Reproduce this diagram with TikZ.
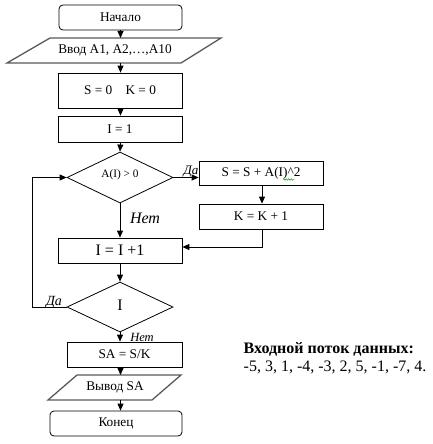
\documentclass[tikz,border=0pt]{standalone}
\usepackage{fontspec}
\setmainfont{Liberation Serif}
\usetikzlibrary{arrows.meta,shapes.geometric,decorations.pathmorphing}
\begin{document}
\begin{tikzpicture}[x=1pt,y=-1pt,
  box/.style={draw,line width=0.8pt,inner sep=0pt,font=\fontsize{13.3}{15}\selectfont},
  term/.style={box,rounded corners=4pt},
  io/.style={draw=black!65,line width=1.3pt},
  iotext/.style={inner sep=0pt,font=\fontsize{13.3}{15}\selectfont},
  dia/.style={draw,line width=0.8pt,diamond,inner sep=0pt,aspect=2.08},
  lbl/.style={inner sep=0pt,font=\itshape},
  arr/.style={line width=0.8pt,-{Triangle[length=7pt,width=6pt]}},
  ln/.style={line width=0.8pt}]
\useasboundingbox (0,0) rectangle (432,444);
% nodes
\node[term,minimum width=123pt,minimum height=25pt] (start) at (120.5,17.5) {Начало};
\draw[io] (50,38) -- (221,38) -- (181,63) -- (7,63) -- cycle;
\node[iotext] (in) at (115,50.5) {Ввод A1, A2,…,A10};
\coordinate (intop) at (120.5,38);
\coordinate (inbot) at (120.5,63);
\node[box,minimum width=124pt,minimum height=35pt] (init) at (120,90.5) {S = 0\quad K = 0};
\node[box,minimum width=124pt,minimum height=26pt] (i1) at (120,129) {I = 1};
\node[dia,minimum width=106pt,minimum height=51pt] (d1) at (120,177.5) {};
\node[inner sep=0pt,font=\fontsize{11.3}{13}\selectfont] (d1t) at (120,175) {A(I) > 0};
\node[box,minimum width=124pt,minimum height=24pt] (s) at (261,173) {S = S + A(I)\^{}2};
\node[box,minimum width=124pt,minimum height=25pt] (k) at (261,216.5) {K = K + 1};
\node[box,minimum width=124pt,minimum height=25pt,font=\fontsize{16}{18}\selectfont] (inc) at (120,250.5) {I = I +1};
\node[dia,minimum width=106pt,minimum height=50pt] (d2) at (120,307) {};
\node[inner sep=0pt,font=\fontsize{16}{18}\selectfont] (d2t) at (120,305) {I};
\node[box,minimum width=115pt,minimum height=25pt] (sa) at (124.5,354.5) {SA = S/K};
\draw[io] (77,375) -- (181,375) -- (152,400) -- (48,400) -- cycle;
\node[iotext] (out) at (115,387.5) {Вывод SA};
\coordinate (outtop) at (120.5,375);
\coordinate (outbot) at (120.5,400);
\node[term,minimum width=132pt,minimum height=25pt] (end) at (116,423.5) {Конец};
% labels
\node[lbl,font=\fontsize{16}{18}\selectfont\itshape] (no1) at (145,218) {Нет};
\node[lbl,font=\fontsize{12.5}{14}\selectfont\itshape] (no2) at (142,337.5) {Нет};
\node[lbl,font=\fontsize{13}{14}\selectfont\itshape] (yes1) at (191,171.5) {Да};
\node[lbl,font=\fontsize{14}{15}\selectfont\itshape] (yes2) at (54,302.5) {Да};
\node[inner sep=0pt,anchor=west,align=left,font=\fontsize{16}{18}\selectfont] (data) at (243.5,358)
  {\textbf{Входной поток данных:}\\-5, 3, 1, -4, -3, 2, 5, -1, -7, 4.};
% green spell-check wave
\draw[green!60!black,line width=0.5pt,decorate,decoration={snake,amplitude=0.8pt,segment length=2.5pt}] (283,179.5) -- (294,179.5);
% connectors
\draw[arr] (start.south -| intop) -- (intop);
\draw[arr] (inbot) -- (init.north -| inbot);
\draw[arr] (init.south -| inbot) -- (i1.north -| inbot);
\draw[arr] (i1.south -| inbot) -- (d1.north);
\coordinate (sin) at (s.west |- d1.east);
\draw[arr] (d1.east) -- (sin);
\coordinate (sk) at (262,185);
\draw[arr] (s.south -| sk) -- (k.north -| sk);
\coordinate (kturn) at (262,247);
\draw[arr] (k.south -| kturn) -- (kturn) -- (inc.east |- kturn);
\draw[arr] (d1.south) -- (inc.north -| d1.south);
\draw[arr] (inc.south -| d2.north) -- (d2.north);
\coordinate (lb) at (32,307);
\coordinate (lt) at (32,177.5);
\draw[arr] (d2.west) -- (lb) -- (lt) -- (d1.west);
\draw[arr] (d2.south) -- (sa.north -| d2.south);
\draw[arr] (sa.south -| outtop) -- (outtop);
\draw[arr] (outbot) -- (end.north -| outbot);
\end{tikzpicture}
\end{document}
